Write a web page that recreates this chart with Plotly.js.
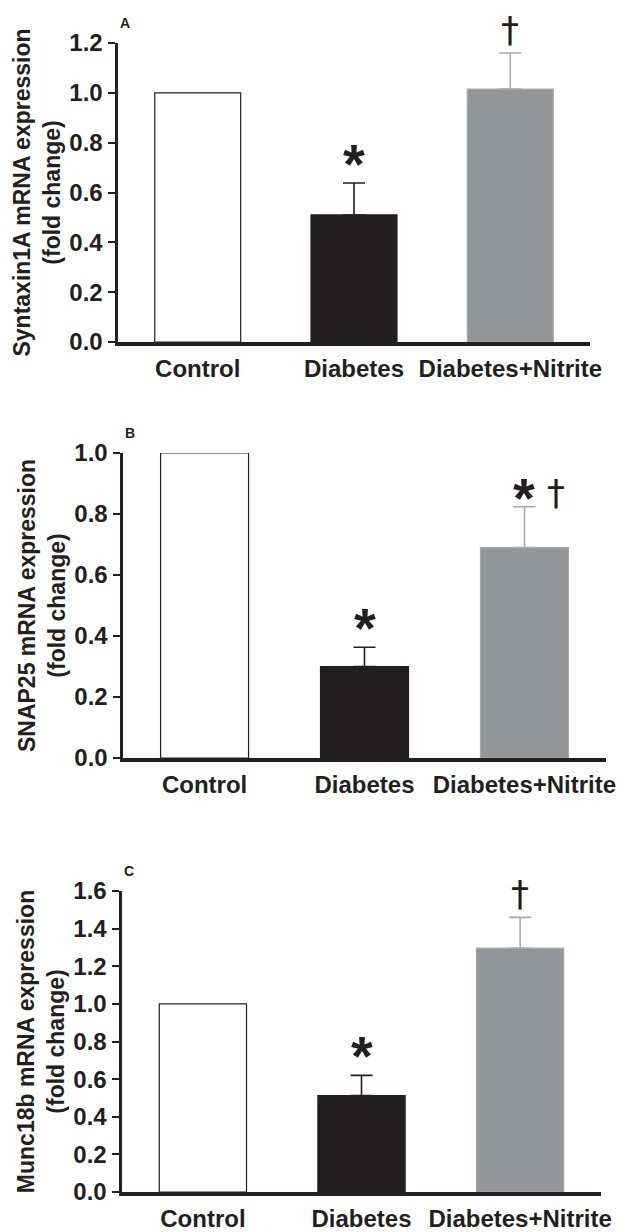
<!DOCTYPE html>
<html>
<head>
<meta charset="utf-8">
<script src="https://cdn.plot.ly/plotly-3.0.1.min.js"></script>
<style>html,body{margin:0;padding:0;background:#fff;}#chart{width:630px;height:1232px;}</style>
</head>
<body>
<div id="chart"></div>
<script>
// ---- data ----
const categories = ['Control', 'Diabetes', 'Diabetes+Nitrite'];

const syntaxinValues = [1.00, 0.51, 1.015];
const syntaxinErrors = [0, 0.128, 0.145];
const syntaxinStars   = [false, true, false];
const syntaxinDaggers = [false, false, true];

const snap25Values = [1.00, 0.30, 0.69];
const snap25Errors = [0, 0.063, 0.134];
const snap25Stars   = [false, true, true];
const snap25Daggers = [false, false, true];

const munc18bValues = [1.00, 0.513, 1.296];
const munc18bErrors = [0, 0.107, 0.164];
const munc18bStars   = [false, true, false];
const munc18bDaggers = [false, false, true];

const panelLabels = ['A', 'B', 'C'];
const yTitles = ['Syntaxin1A mRNA expression<br>(fold change)',
                 'SNAP25 mRNA expression<br>(fold change)',
                 'Munc18b mRNA expression<br>(fold change)'];
const yMax = [1.2, 1.0, 1.6];

// ---- styles ----
const W = 630, H = 1232;
const ink = '#231f20';
const fills = ['#ffffff', '#231f20', '#939598'];
const outlines = ['#231f20', '#231f20', '#a7a9ac'];
const errColors = ['#231f20', '#231f20', '#a7a9ac'];
const FONT = 'Liberation Sans, Arial, Helvetica, sans-serif';

// panel geometry in pixels: [xLeft, xRight, yTop(max), yBottom(0)]
const geom = [
  [118, 590, 43, 342],
  [123, 606, 453, 758],
  [122, 601, 891, 1192]
];

const panels = [
  {v: syntaxinValues, e: syntaxinErrors, s: syntaxinStars, d: syntaxinDaggers},
  {v: snap25Values, e: snap25Errors, s: snap25Stars, d: snap25Daggers},
  {v: munc18bValues, e: munc18bErrors, s: munc18bStars, d: munc18bDaggers}
];

const traces = [];
const annotations = [];
const layout = {
  width: W, height: H,
  margin: {l: 0, r: 0, t: 0, b: 0},
  paper_bgcolor: '#fff', plot_bgcolor: '#fff',
  showlegend: false,
  barmode: 'overlay',
  font: {family: FONT, color: ink}
};

panels.forEach((p, k) => {
  const n = k + 1;
  const xa = n === 1 ? 'x' : 'x' + n;
  const ya = n === 1 ? 'y' : 'y' + n;
  categories.forEach((c, i) => {
    traces.push({
      type: 'bar', x: [c], y: [p.v[i]], xaxis: xa, yaxis: ya,
      width: 0.55,
      marker: {color: fills[i], line: {color: outlines[i], width: 1.2}},
      error_y: p.e[i] > 0 ? {type: 'data', symmetric: false, array: [p.e[i]], arrayminus: [0],
                visible: true, color: errColors[i], thickness: 1.6, width: 11} : {visible: false},
      hoverinfo: 'x+y'
    });
    const top = p.v[i] + p.e[i];
    const both = p.s[i] && p.d[i];
    if (p.s[i]) {
      annotations.push({xref: xa, yref: ya, x: c, y: top, text: '*', showarrow: false,
        yanchor: 'bottom', yshift: both ? -24 : -14,
        font: {family: FONT, size: 56, weight: 'bold', color: ink}});
    }
    if (p.d[i]) {
      annotations.push({xref: xa, yref: ya, x: c, y: top, text: '†', showarrow: false,
        yanchor: 'bottom', yshift: both ? -8 : 1, xshift: both ? 32 : 0,
        font: {family: 'DejaVu Sans, ' + FONT, size: 36, color: ink}});
    }
  });
  const g = geom[k];
  layout['xaxis' + (n === 1 ? '' : n)] = {
    domain: [g[0] / W, g[1] / W],
    anchor: ya,
    type: 'category',
    categoryorder: 'array', categoryarray: categories,
    range: [-0.51, 2.51],
    showline: true, linecolor: ink, linewidth: 3.5,
    ticks: '', showgrid: false, zeroline: false,
    ticklabelstandoff: 3,
    tickfont: {family: FONT, size: 24, weight: 'bold', color: ink},
    fixedrange: true
  };
  layout['yaxis' + (n === 1 ? '' : n)] = {
    domain: [1 - g[3] / H, 1 - g[2] / H],
    anchor: xa,
    range: [0, yMax[k]],
    dtick: 0.2, tick0: 0, tickformat: '.1f',
    showline: true, linecolor: ink, linewidth: 3.5,
    ticks: 'outside', ticklen: 7, tickwidth: 2, tickcolor: ink,
    showgrid: false, zeroline: false,
    tickfont: {family: FONT, size: 24, weight: 'bold', color: ink},
    title: {text: yTitles[k], standoff: 3, font: {family: FONT, size: 23, weight: 'bold', color: ink}},
    fixedrange: true
  };
  annotations.push({xref: 'paper', yref: 'paper', x: (g[0] + 7) / W, y: 1 - (g[2] - 20) / H,
    text: panelLabels[k], showarrow: false, xanchor: 'center', yanchor: 'middle',
    font: {family: FONT, size: 14, weight: 'bold', color: ink}});
});

layout.annotations = annotations;

Plotly.newPlot('chart', traces, layout, {staticPlot: true, displayModeBar: false});
</script>
</body>
</html>
